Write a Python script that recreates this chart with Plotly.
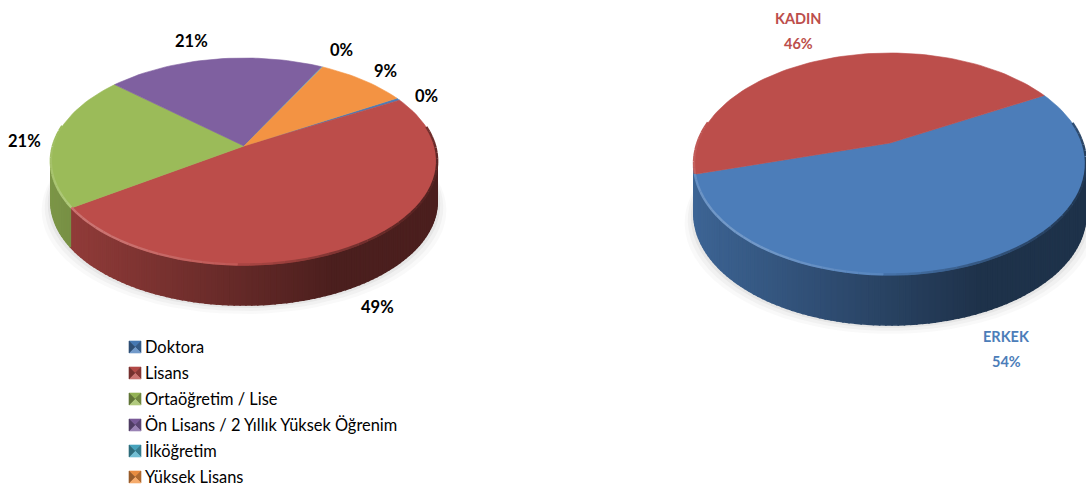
import math
import plotly.graph_objects as go

# ---- data ----
edu_names = ["Doktora", "Lisans", "Ortaöğretim / Lise",
             "Ön Lisans / 2 Yıllık Yüksek Öğrenim", "İlköğretim", "Yüksek Lisans"]
edu_values = [0.4, 48.6, 21.1, 21.0, 0.1, 8.8]
edu_colors = ["#4A7EBB", "#BC4D4A", "#9BBB59", "#7F60A0", "#4BACC6", "#F39343"]
gender_names = ["ERKEK", "KADIN"]
gender_values = [53.6, 46.4]
gender_colors = ["#4C7DB9", "#BC4E4B"]

# ---- layout of the two drawings ----
LEFT = dict(cx=244, cy=146, C=191, A=79.3, k=-0.15, depth=40, start=-30.5, wall_lag=0)
RIGHT = dict(cx=890, cy=143, C=192.5, A=80.0, k=-0.189, depth=50, start=-29.0, wall_lag=8)
FONT = "Lato"


def rgb(h):
    h = h.lstrip("#")
    return tuple(int(h[i:i + 2], 16) for i in (0, 2, 4))


def mix(c, other, f):
    return "rgb(%d,%d,%d)" % tuple(round(a + (b - a) * f) for a, b in zip(c, other))


def rim(g, deg):
    t = math.radians(deg)
    u, v = math.cos(t), math.sin(t)
    w = 1 + g["k"] * v
    return g["cx"] + g["C"] * u / w, (g["A"] * v + g["cy"]) / w


def poly(fig, xs, ys, color, seam=0.6):
    fig.add_trace(go.Scatter(x=xs, y=ys, mode="lines", fill="toself", fillcolor=color,
                             line=dict(color=color, width=seam), hoverinfo="skip", showlegend=False))


def draw_pie(fig, g, values, colors):
    total = sum(values)
    edges = [g["start"]]
    for val in values:
        edges.append(edges[-1] + 360 * val / total)

    def slice_at(deg):
        for i in range(len(values)):
            if edges[i] <= deg < edges[i + 1]:
                return i
        return len(values) - 1

    # soft ground shadow
    for grow, alpha in ((9, 0.035), (6, 0.05), (3, 0.07)):
        pts = [rim(g, a) for a in range(0, 361, 4)]
        poly(fig, [p[0] + (p[0] - g["cx"]) * grow / 190 for p in pts],
             [p[1] + g["depth"] + grow for p in pts],
             "rgba(90,90,90,%.3f)" % alpha, seam=0)
    # side wall, shaded from left to right; only the part that faces the viewer
    x_left, x_right = g["cx"] - g["C"] * 1.02, g["cx"] + g["C"] * 1.02
    b = -20.0
    while b < 200:
        p0, p1 = rim(g, b), rim(g, b + 1.5)
        if p1[0] < p0[0]:
            i = slice_at(b + 0.75 - g["wall_lag"])
            f = (0.5 * (p0[0] + p1[0]) - x_left) / (x_right - x_left)
            shade = max(0.40, 0.80 - 0.55 * f)
            poly(fig, [p0[0], p1[0], p1[0], p0[0], p0[0]],
                 [p0[1], p1[1], p1[1] + g["depth"], p0[1] + g["depth"], p0[1]],
                 mix(rgb(colors[i]), (0, 0, 0), 1 - shade), seam=1.6)
        b += 1.5
    # top face
    for i, val in enumerate(values):
        a0, a1 = edges[i], edges[i + 1]
        n = max(2, int((a1 - a0) / 2))
        pts = [rim(g, a0 + (a1 - a0) * j / n) for j in range(n + 1)]
        poly(fig, [g["cx"]] + [p[0] for p in pts] + [g["cx"]],
             [g["cy"]] + [p[1] for p in pts] + [g["cy"]], colors[i])
    # bevel along the front rim
    for i, val in enumerate(values):
        a0, a1 = edges[i], edges[i + 1]
        n = max(2, int((a1 - a0) / 3))
        for j in range(n):
            b0 = a0 + (a1 - a0) * j / n
            b1 = a0 + (a1 - a0) * (j + 1) / n
            m = (b0 + b1) / 2
            if math.sin(math.radians(m)) < -0.2:
                continue
            light = max(0.0, math.cos(math.radians(m - 135))) ** 4 * 0.22
            dark = max(0.0, math.cos(math.radians(m - 25))) ** 2 * 0.55
            col = mix(rgb(colors[i]), (255, 255, 255), light) if light > dark * 0.6 \
                else mix(rgb(colors[i]), (0, 0, 0), dark)
            p0, p1 = rim(g, b0), rim(g, b1)
            fig.add_trace(go.Scatter(x=[p0[0], p1[0]], y=[p0[1] - 0.5, p1[1] - 0.5], mode="lines",
                                     line=dict(color=col, width=2.4), hoverinfo="skip",
                                     showlegend=False))


def swatch(fig, x, y, color):
    r = 6
    base = rgb(color)
    faces = [([x - r, x + r, x], [y - r, y - r, y], mix(base, (0, 0, 0), 0.05)),
             ([x + r, x + r, x], [y - r, y + r, y], mix(base, (0, 0, 0), 0.28)),
             ([x + r, x - r, x], [y + r, y + r, y], mix(base, (255, 255, 255), 0.22)),
             ([x - r, x - r, x], [y + r, y - r, y], mix(base, (0, 0, 0), 0.38))]
    for xs, ys, col in faces:
        poly(fig, xs + xs[:1], ys + ys[:1], col)


fig = go.Figure()
draw_pie(fig, LEFT, edu_values, edu_colors)
draw_pie(fig, RIGHT, gender_values, gender_colors)

notes = []


def note(x, y, text, color="#000000", size=16.5, bold=True, anchor="center"):
    txt = "<b>%s</b>" % text if bold else text
    notes.append(dict(x=x, y=y, text=txt, showarrow=False, xanchor=anchor, yanchor="middle",
                      xref="x", yref="y",
                      font=dict(family=FONT, size=size, color=color)))


# left labels, in slice order
edu_label_spots = [(426, 96), (377, 307), (24, 141), (191, 41), (341, 50), (385, 71)]
for val, (lx, ly) in zip(edu_values, edu_label_spots):
    note(lx, ly, "%d%%" % round(val))

# right labels
gender_label_spots = [(1006, 336), (798, 18)]
for name, val, col, (lx, ly) in zip(gender_names, gender_values, gender_colors, gender_label_spots):
    note(lx, ly, name, color=col, size=14.5)
    note(lx, ly + 25, "%d%%" % round(val), color=col, size=14.5)

# legend
for i, (name, col) in enumerate(zip(edu_names, edu_colors)):
    y = 347 + 26 * i
    swatch(fig, 135, y, col)
    note(142.5, y - 1, name, size=16.4, bold=False, anchor="left")

fig.update_layout(
    width=1086, height=489,
    margin=dict(l=0, r=0, t=0, b=0),
    paper_bgcolor="white", plot_bgcolor="white",
    showlegend=False, annotations=notes,
    xaxis=dict(range=[0, 1086], visible=False, fixedrange=True),
    yaxis=dict(range=[489, 0], visible=False, fixedrange=True),
)
fig.write_html("out.html", config=dict(displayModeBar=False),
               post_script="document.body.style.margin='0';document.body.style.overflow='hidden';")
